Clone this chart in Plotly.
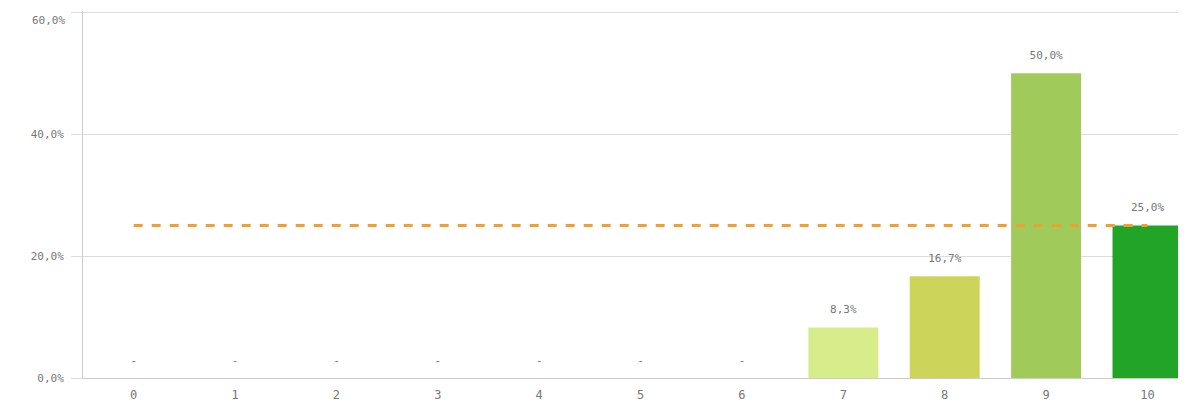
import plotly.graph_objects as go

categories = ["0", "1", "2", "3", "4", "5", "6", "7", "8", "9", "10"]
values = [0, 0, 0, 0, 0, 0, 0, 8.3, 16.7, 50.0, 25.0]
bar_colors = ["#d9ec8c"] * 7 + ["#d9ec8c", "#cdd45a", "#a0cb5a", "#22a526"]
reference_value = 25.0
y_ticks = [0, 20, 40, 60]
y_tick_labels = ["0,0%", "20,0%", "40,0%", "60,0%"]

font_family = "DejaVu Sans Mono"
text_color = "#777777"

value_text = [("%.1f%%" % v).replace(".", ",") if v > 0 else "-" for v in values]

fig = go.Figure()
fig.add_trace(go.Bar(
    x=categories, y=values,
    marker=dict(color=bar_colors, line=dict(width=0)),
    showlegend=False,
))
fig.add_trace(go.Scatter(
    x=categories, y=values, mode="markers+text",
    marker=dict(size=17, opacity=0),
    text=value_text, textposition="top center",
    textfont=dict(family=font_family, size=11, color=text_color),
    showlegend=False, cliponaxis=False, hoverinfo="skip",
))
fig.add_trace(go.Scatter(
    x=categories, y=[reference_value] * len(categories), mode="lines",
    line=dict(color="#f0a030", width=3, dash="dash"),
    showlegend=False,
))

# top tick label is drawn as an annotation so it stays inside the figure
shown_ticktext = y_tick_labels[:-1] + [""]
fig.add_annotation(
    xref="paper", yref="y", x=0, y=y_ticks[-1],
    text=y_tick_labels[-1], showarrow=False,
    xanchor="right", yanchor="middle", xshift=-16, yshift=-8,
    font=dict(family=font_family, size=11, color=text_color),
)

fig.update_layout(
    width=1178, height=405,
    margin=dict(l=75, r=0, t=3, b=35),
    paper_bgcolor="white", plot_bgcolor="white",
    bargap=0.31,
    font=dict(family=font_family, size=11, color=text_color),
    xaxis=dict(
        type="category", range=[-0.5, 10.38], automargin=False,
        showline=True, linecolor="#cccccc", linewidth=1,
        showgrid=False, ticks="", ticklabelstandoff=6,
        tickfont=dict(family=font_family, size=12, color=text_color),
    ),
    yaxis=dict(
        range=[0, 60.2], tickvals=y_ticks, ticktext=shown_ticktext, automargin=False,
        showgrid=True, gridcolor="#dddddd", gridwidth=1,
        showline=True, linecolor="#cccccc", linewidth=1,
        ticks="outside", ticklen=11, tickcolor="#dddddd",
        ticklabelstandoff=5,
        zeroline=False,
        tickfont=dict(family=font_family, size=11, color=text_color),
    ),
)

fig.write_html("out.html")
